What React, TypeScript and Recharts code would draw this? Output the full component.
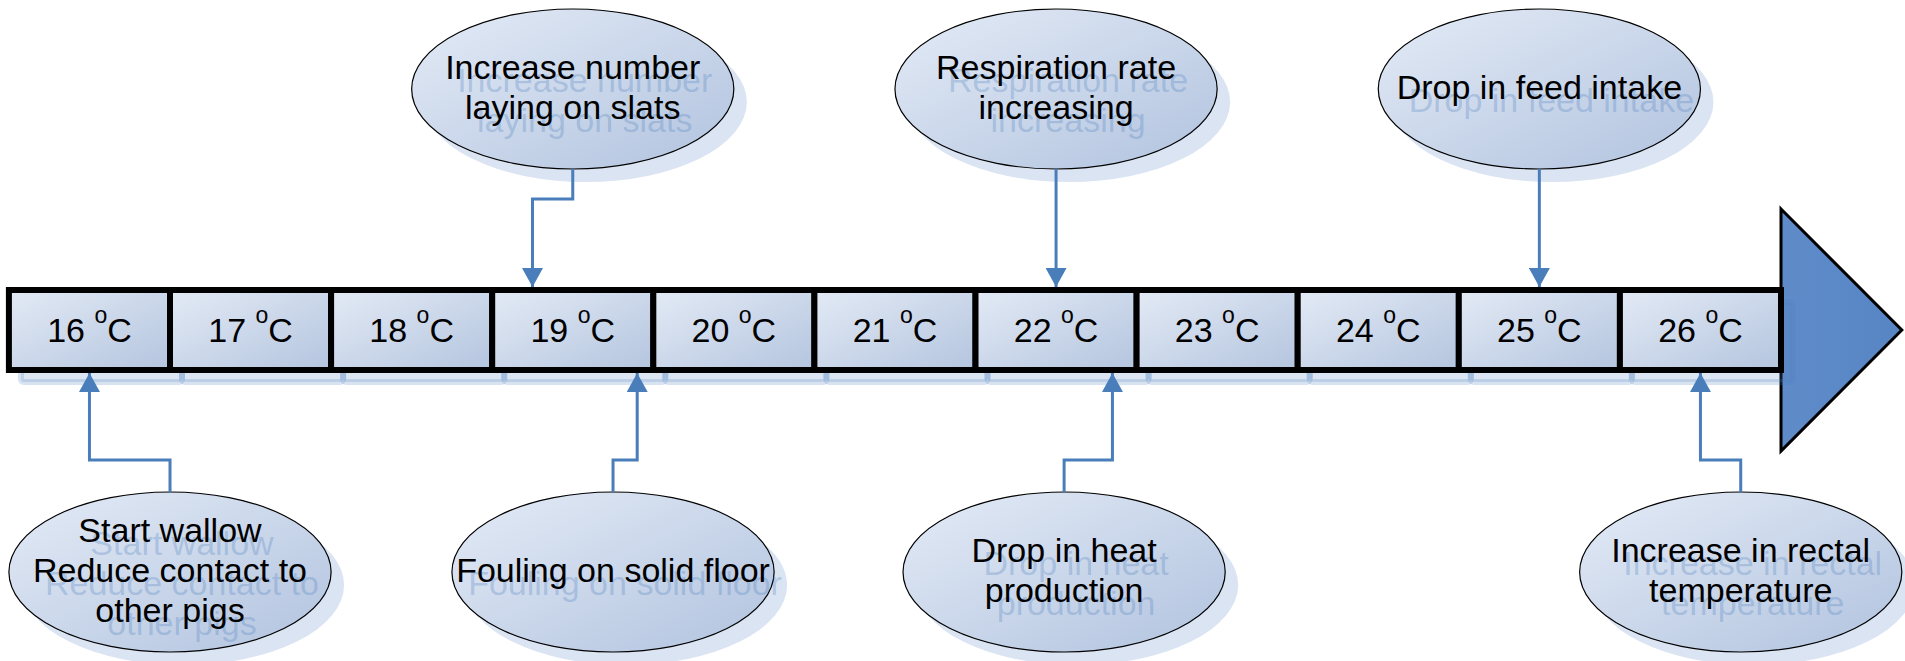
import { ComposedChart, XAxis, YAxis, Line, ReferenceArea } from "recharts";

// temperature scale shown on the timeline
const temperatures = [16, 17, 18, 19, 20, 21, 22, 23, 24, 25, 26];
const tempUnit = "C";

// behaviour events: text, temperature the arrow points at, temperature the bubble sits on
const eventLabels = [
  ["Increase number", "laying on slats"],
  ["Respiration rate", "increasing"],
  ["Drop in feed intake"],
  ["Start wallow", "Reduce contact to", "other pigs"],
  ["Fouling on solid floor"],
  ["Drop in heat", "production"],
  ["Increase in rectal", "temperature"],
];
const eventTemps = [18.75, 22, 25, 16, 19.4, 22.35, 26];
const bubbleTemps = [19, 22, 25, 16.5, 19.25, 22.05, 26.25];
const eventSides = ["above", "above", "above", "below", "below", "below", "below"];

// layout (pixels on the y axis, temperature units on the x axis)
const W = 1905;
const H = 661;
const X_DOMAIN: [number, number] = [15.4447, 27.2697];
const BAR_TOP = 290;
const BAR_BOTTOM = 370;
const HEAD_TOP = 209;
const HEAD_BOTTOM = 451;
const HEAD_TIP = 27.25;
const BUBBLE_HALF = 1.0;
const ROWS: Record<string, { top: number; bottom: number; bend: number; tip: number }> = {
  above: { top: 9, bottom: 169, bend: 199, tip: 287 },
  below: { top: 492, bottom: 652, bend: 460, tip: 373 },
};

const FONT = "'Liberation Sans', Arial, sans-serif";
const LINK = "#4a7ebb";

const TempBox = (props: any) => {
  const { x, y, width, height, temp } = props;
  const cx = x + width / 2;
  const base = y + height / 2 + 12;
  return (
    <g>
      <rect x={x} y={y} width={width} height={height} fill="url(#boxGrad)" stroke="#000" strokeWidth={6} />
      <text x={cx} y={base} textAnchor="middle" fontSize={34} fontFamily={FONT} fill="#000" style={{ whiteSpace: "pre" }}>
        <tspan>{`${temp} `}</tspan>
        <tspan fontSize={23} dy={-19}>o</tspan>
        <tspan dy={19}>{tempUnit}</tspan>
      </text>
    </g>
  );
};

const BarShadow = (props: any) => {
  const { x, y, width, height } = props;
  return (
    <rect x={x + 12} y={y + 12} width={width} height={height} rx={3}
      fill="#4f81bd" fillOpacity={0.2} stroke="#4f81bd" strokeOpacity={0.22} strokeWidth={6} />
  );
};

const Head = (props: any) => {
  const { x, y, width, height } = props;
  return (
    <polygon
      points={`${x},${y} ${x + width},${y + height / 2} ${x},${y + height}`}
      fill="url(#headGrad)" stroke="#000" strokeWidth={3} strokeLinejoin="miter"
    />
  );
};

const Bubble = (props: any) => {
  const { x, y, width, height, lines } = props;
  const cx = x + width / 2;
  const cy = y + height / 2;
  const rx = width / 2;
  const ry = height / 2;
  const lh = 40;
  const base = (i: number) => cy + 9.5 + (i - (lines.length - 1) / 2) * lh;
  return (
    <g fontFamily={FONT} fontSize={34} textAnchor="middle">
      <ellipse cx={cx + 13} cy={cy + 13} rx={rx} ry={ry} fill="#dbe4f2" />
      <ellipse cx={cx} cy={cy} rx={rx} ry={ry} fill="url(#bubbleGrad)" stroke="#000" strokeWidth={1.2} />
      {lines.map((s: string, i: number) => (
        <text key={"s" + i} x={cx + 12} y={base(i) + 13} fill="#4f81bd" fillOpacity={0.3}>{s}</text>
      ))}
      {lines.map((s: string, i: number) => (
        <text key={"t" + i} x={cx} y={base(i)} fill="#000">{s}</text>
      ))}
    </g>
  );
};

const connectors = eventLabels.map((_, i) => {
  const row = ROWS[eventSides[i]];
  const edge = eventSides[i] === "above" ? row.bottom : row.top;
  const pts = [{ x: bubbleTemps[i], y: edge }];
  if (bubbleTemps[i] !== eventTemps[i]) {
    pts.push({ x: bubbleTemps[i], y: row.bend });
    pts.push({ x: eventTemps[i], y: row.bend });
  }
  pts.push({ x: eventTemps[i], y: row.tip });
  return pts;
});

export default function App() {
  return (
    <div style={{ position: "absolute", left: 0, top: 0, background: "#fff" }}>
      <ComposedChart width={W} height={H} margin={{ top: 0, right: 0, bottom: 0, left: 0 }}>
        <defs>
          <linearGradient id="boxGrad" x1="0" y1="0" x2="1" y2="1">
            <stop offset="0%" stopColor="#e3eaf5" />
            <stop offset="100%" stopColor="#b4c5df" />
          </linearGradient>
          <linearGradient id="bubbleGrad" x1="0" y1="0" x2="1" y2="1">
            <stop offset="0%" stopColor="#e4ebf6" />
            <stop offset="100%" stopColor="#b1c3df" />
          </linearGradient>
          <linearGradient id="headGrad" x1="0" y1="0" x2="1" y2="0">
            <stop offset="0%" stopColor="#5f8bc9" />
            <stop offset="100%" stopColor="#5785c4" />
          </linearGradient>
          <marker id="arrowHead" viewBox="0 0 19 21" markerWidth={19} markerHeight={21} refX={19} refY={10.5}
            orient="auto" markerUnits="userSpaceOnUse">
            <path d="M0,0 L19,10.5 L0,21 z" fill={LINK} />
          </marker>
        </defs>
        <XAxis type="number" dataKey="x" domain={X_DOMAIN} allowDataOverflow hide />
        <YAxis type="number" dataKey="y" domain={[0, H]} allowDataOverflow reversed hide />

        <ReferenceArea x1={26.5} x2={HEAD_TIP} y1={HEAD_TOP} y2={HEAD_BOTTOM} shape={<Head />} ifOverflow="visible" />
        {temperatures.map((t) => (
          <ReferenceArea key={"sh" + t} x1={t - 0.5} x2={t + 0.5} y1={BAR_TOP} y2={BAR_BOTTOM}
            shape={<BarShadow />} ifOverflow="visible" />
        ))}
        {temperatures.map((t) => (
          <ReferenceArea key={"b" + t} x1={t - 0.5} x2={t + 0.5} y1={BAR_TOP} y2={BAR_BOTTOM}
            shape={<TempBox temp={t} />} ifOverflow="visible" />
        ))}
        {eventLabels.map((lines, i) => {
          const row = ROWS[eventSides[i]];
          return (
            <ReferenceArea key={"e" + i} x1={bubbleTemps[i] - BUBBLE_HALF} x2={bubbleTemps[i] + BUBBLE_HALF}
              y1={row.top} y2={row.bottom} shape={<Bubble lines={lines} />} ifOverflow="visible" />
          );
        })}
        {connectors.map((pts, i) => (
          <Line key={"c" + i} data={pts} dataKey="y" type="linear" stroke={LINK} strokeWidth={3}
            dot={false} activeDot={false} isAnimationActive={false} markerEnd="url(#arrowHead)" />
        ))}
      </ComposedChart>
    </div>
  );
}
